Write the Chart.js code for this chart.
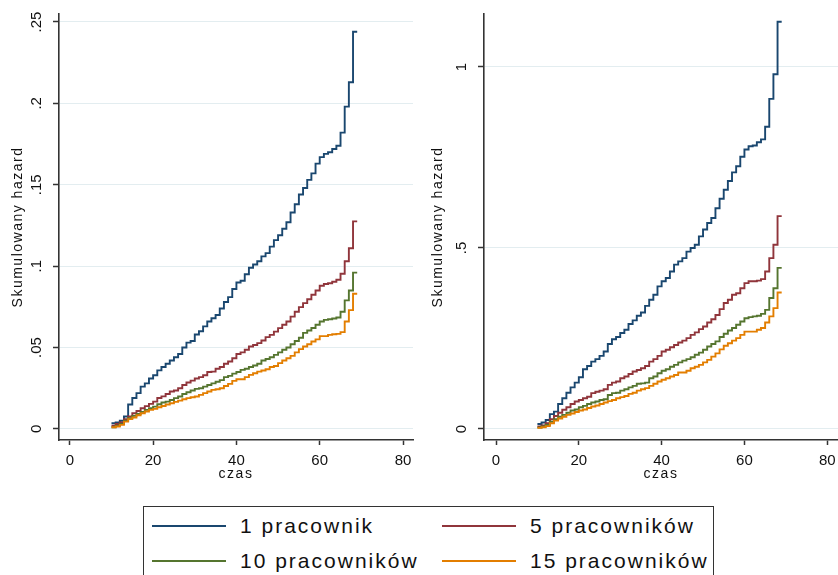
<!DOCTYPE html>
<html>
<head>
<meta charset="utf-8">
<script src="https://cdn.jsdelivr.net/npm/chart.js@4.4.1/dist/chart.umd.min.js"></script>
<style>
  body { margin: 0; width: 838px; height: 575px; overflow: hidden; background: #fff; position: relative;
         font-family: "Liberation Sans", Arial, sans-serif; }
  canvas { position: absolute; top: 0; }
  #left { left: 0; }
  #right { left: 420px; }
  #legend { position: absolute; left: 143px; top: 506px; width: 571px; height: 100px;
            border: 1px solid #333; box-sizing: border-box; }
  .swatch { position: absolute; width: 74px; height: 0; border-top: 2px solid; }
  .label { position: absolute; font-size: 21px; letter-spacing: 2px; color: #111;
           white-space: nowrap; line-height: 24px; }
</style>
</head>
<body>
<canvas id="left" width="420" height="490"></canvas>
<canvas id="right" width="418" height="490"></canvas>
<div id="legend"></div>

<script>
// ----------------------
// DATA
// ----------------------

const czas = [10, 11, 12, 13, 14, 15, 16, 17, 18, 19, 20, 21, 22, 23, 24, 25, 26, 27, 28, 29,
              30, 31, 32, 33, 34, 35, 36, 37, 38, 39, 40, 41, 42, 43, 44, 45, 46, 47, 48, 49,
              50, 51, 52, 53, 54, 55, 56, 57, 58, 59, 60, 61, 62, 63, 64, 65, 66, 67, 68, 69];

const xTicks = [0, 20, 40, 60, 80];

const seriesNames = ['1 pracownik', '5 pracowników', '10 pracowników', '15 pracowników'];
const seriesColors = ['#1a476f', '#90353b', '#55752f', '#e37e00'];

const xTitle = 'czas';
const yTitle = 'Skumulowany hazard';

// left panel
const yTicksLeft = [0, 0.05, 0.1, 0.15, 0.2, 0.25];
const yLabelsLeft = ['0', '.05', '.1', '.15', '.2', '.25'];

const left1 = [0.0035, 0.004, 0.005, 0.0076, 0.015, 0.019, 0.022, 0.026, 0.028, 0.031,
               0.033, 0.036, 0.038, 0.040, 0.042, 0.044, 0.046, 0.050, 0.053, 0.054,
               0.058, 0.060, 0.063, 0.066, 0.068, 0.070, 0.074, 0.078, 0.081, 0.086,
               0.090, 0.091, 0.095, 0.099, 0.101, 0.103, 0.106, 0.108, 0.112, 0.116,
               0.119, 0.123, 0.127, 0.133, 0.138, 0.144, 0.148, 0.153, 0.157, 0.163,
               0.167, 0.169, 0.170, 0.172, 0.174, 0.182, 0.198, 0.213, 0.244, 0.244];
const left5 = [0.002, 0.003, 0.004, 0.006, 0.0076, 0.0096, 0.011, 0.0127, 0.014, 0.0154,
               0.0168, 0.019, 0.020, 0.0215, 0.023, 0.0236, 0.025, 0.027, 0.0285, 0.0297,
               0.031, 0.0318, 0.033, 0.035, 0.0352, 0.037, 0.038, 0.040, 0.0414, 0.0434,
               0.046, 0.047, 0.0486, 0.0506, 0.0516, 0.0527, 0.0543, 0.0564, 0.0578, 0.0598,
               0.0619, 0.064, 0.066, 0.069, 0.072, 0.0748, 0.0773, 0.0797, 0.0824, 0.085,
               0.088, 0.089, 0.0895, 0.0904, 0.0916, 0.0953, 0.103, 0.111, 0.1275, 0.1275];
const left10 = [0.001, 0.002, 0.003, 0.005, 0.0066, 0.008, 0.0092, 0.0105, 0.0117, 0.0127,
                0.0137, 0.0152, 0.0162, 0.0168, 0.0178, 0.0189, 0.0199, 0.0215, 0.0225, 0.0236,
                0.0246, 0.025, 0.026, 0.027, 0.028, 0.029, 0.030, 0.0318, 0.0326, 0.034,
                0.035, 0.0363, 0.037, 0.038, 0.039, 0.040, 0.042, 0.043, 0.044, 0.0455,
                0.047, 0.0486, 0.050, 0.052, 0.054, 0.056, 0.059, 0.0605, 0.062, 0.064,
                0.066, 0.067, 0.0674, 0.0678, 0.0685, 0.072, 0.079, 0.085, 0.096, 0.096];
const left15 = [0.001, 0.0015, 0.0025, 0.0045, 0.006, 0.007, 0.0084, 0.0096, 0.0107, 0.0117,
                0.0123, 0.0133, 0.0141, 0.015, 0.0158, 0.0166, 0.0174, 0.0182, 0.0189, 0.0195,
                0.0199, 0.0209, 0.022, 0.023, 0.024, 0.0244, 0.025, 0.0264, 0.0277, 0.0295,
                0.0305, 0.0305, 0.0318, 0.0332, 0.0342, 0.0352, 0.0359, 0.0367, 0.038, 0.0387,
                0.0404, 0.042, 0.0434, 0.0449, 0.047, 0.049, 0.0506, 0.052, 0.0537, 0.055,
                0.057, 0.057, 0.0578, 0.0582, 0.0584, 0.0595, 0.066, 0.073, 0.083, 0.083];

// right panel
const yTicksRight = [0, 0.5, 1];
const yLabelsRight = ['0', '.5', '1'];

const right1 = [0.014, 0.018, 0.025, 0.041, 0.048, 0.069, 0.085, 0.100, 0.115, 0.128,
                0.143, 0.165, 0.174, 0.186, 0.193, 0.202, 0.214, 0.235, 0.248, 0.254,
                0.265, 0.274, 0.290, 0.300, 0.313, 0.322, 0.340, 0.357, 0.371, 0.394,
                0.408, 0.417, 0.435, 0.454, 0.463, 0.472, 0.490, 0.500, 0.509, 0.532,
                0.551, 0.569, 0.583, 0.610, 0.636, 0.661, 0.685, 0.709, 0.726, 0.752,
                0.772, 0.781, 0.783, 0.792, 0.800, 0.835, 0.912, 0.980, 1.125, 1.125];
const right5 = [0.007, 0.010, 0.016, 0.027, 0.036, 0.045, 0.053, 0.060, 0.069, 0.076,
                0.080, 0.085, 0.089, 0.099, 0.103, 0.106, 0.110, 0.122, 0.128, 0.131,
                0.140, 0.145, 0.152, 0.159, 0.163, 0.168, 0.174, 0.186, 0.193, 0.202,
                0.214, 0.219, 0.226, 0.232, 0.239, 0.244, 0.251, 0.260, 0.267, 0.276,
                0.283, 0.294, 0.303, 0.315, 0.331, 0.348, 0.357, 0.371, 0.375, 0.389,
                0.403, 0.408, 0.408, 0.410, 0.414, 0.435, 0.472, 0.509, 0.588, 0.588];
const right10 = [0.004, 0.007, 0.011, 0.020, 0.027, 0.034, 0.039, 0.045, 0.051, 0.054,
                 0.060, 0.064, 0.069, 0.073, 0.076, 0.080, 0.082, 0.094, 0.099, 0.100,
                 0.106, 0.110, 0.115, 0.119, 0.125, 0.126, 0.128, 0.140, 0.145, 0.154,
                 0.161, 0.165, 0.172, 0.177, 0.184, 0.189, 0.193, 0.198, 0.205, 0.211,
                 0.219, 0.228, 0.235, 0.242, 0.254, 0.263, 0.272, 0.279, 0.288, 0.297,
                 0.306, 0.309, 0.311, 0.313, 0.318, 0.329, 0.362, 0.389, 0.445, 0.445];
const right15 = [0.003, 0.005, 0.008, 0.016, 0.023, 0.029, 0.034, 0.039, 0.043, 0.047,
                 0.051, 0.054, 0.058, 0.062, 0.065, 0.069, 0.073, 0.077, 0.080, 0.085,
                 0.088, 0.091, 0.097, 0.100, 0.106, 0.110, 0.113, 0.119, 0.125, 0.131,
                 0.136, 0.140, 0.145, 0.149, 0.156, 0.156, 0.161, 0.168, 0.172, 0.177,
                 0.184, 0.191, 0.200, 0.209, 0.220, 0.230, 0.237, 0.244, 0.251, 0.260,
                 0.269, 0.269, 0.269, 0.274, 0.279, 0.294, 0.311, 0.334, 0.377, 0.377];

// ----------------------
// CHART SETUP
// ----------------------

const FONT = '"Liberation Sans", Arial, sans-serif';
const axisColor = '#333';
const gridColor = '#e3edf0';

Chart.defaults.font.family = FONT;

// axis titles drawn with Stata-like letter spacing
const axisTitles = {
  id: 'axisTitles',
  afterDraw(chart) {
    const { ctx, chartArea, scales } = chart;
    ctx.save();
    ctx.letterSpacing = '1.5px';
    ctx.font = '14px ' + FONT;
    ctx.fillStyle = '#111';
    ctx.textAlign = 'center';
    ctx.textBaseline = 'middle';
    ctx.fillText(xTitle, (chartArea.left + chartArea.right) / 2, chartArea.bottom + 34);
    ctx.translate(scales.y.left + 18.5, (chartArea.top + chartArea.bottom) / 2);
    ctx.rotate(-Math.PI / 2);
    ctx.fillText(yTitle, 0, 0);
    ctx.restore();
  }
};

function makePanel(id, series, yTicks, yLabels, cfg) {
  const datasets = series.map((vals, i) => ({
    label: seriesNames[i],
    data: czas.map((t, k) => ({ x: t, y: vals[k] })),
    borderColor: seriesColors[i],
    borderWidth: 1.9,
    stepped: true,
    pointRadius: 0,
    fill: false,
    order: series.length - 1 - i
  }));

  return new Chart(document.getElementById(id), {
    type: 'line',
    data: { datasets },
    plugins: [axisTitles],
    options: {
      responsive: false,
      animation: false,
      layout: { padding: { left: 0, top: 14, right: cfg.padRight, bottom: 0 } },
      plugins: { legend: { display: false }, tooltip: { enabled: false } },
      scales: {
        x: {
          type: 'linear',
          min: cfg.xMin,
          max: cfg.xMax,
          afterBuildTicks: s => { s.ticks = xTicks.map(v => ({ value: v })); },
          afterFit: s => { s.height = 50; s.paddingLeft = 0; s.paddingRight = 0; },
          grid: { drawOnChartArea: false, drawTicks: true, tickLength: 5, tickColor: axisColor, tickWidth: 1.5 },
          border: { display: true, color: axisColor, width: 1.6 },
          ticks: { color: '#111', font: { size: 15 }, padding: 7, maxRotation: 0, autoSkip: false }
        },
        y: {
          min: cfg.yMin,
          max: cfg.yMax,
          afterBuildTicks: s => { s.ticks = yTicks.map(v => ({ value: v })); },
          afterFit: s => { s.width = cfg.axisWidth; s.paddingTop = 0; s.paddingBottom = 0; },
          grid: { color: gridColor, lineWidth: 1, drawTicks: true, tickLength: 6, tickColor: axisColor, tickWidth: 1.5 },
          border: { display: true, color: axisColor, width: 1.6 },
          ticks: {
            color: '#111', font: { size: 15 }, padding: cfg.tickPad,
            minRotation: 90, maxRotation: 90, crossAlign: 'center', autoSkip: false,
            callback: (v, i) => yLabels[i]
          }
        }
      }
    }
  });
}

makePanel('left', [left1, left5, left10, left15], yTicksLeft, yLabelsLeft,
  { xMin: -2.6, xMax: 82.4, yMin: -0.0068, yMax: 0.2549, axisWidth: 59, padRight: 7, tickPad: 5.6 });

makePanel('right', [right1, right5, right10, right15], yTicksRight, yLabelsRight,
  { xMin: -2.9, xMax: 82.6, yMin: -0.0304, yMax: 1.1464, axisWidth: 64, padRight: 0, tickPad: 9.75 });

// ----------------------
// LEGEND
// ----------------------

const legend = document.getElementById('legend');
const cols = [8, 298];    // swatch x inside box
const rows = [19, 54];    // row centre y inside box
seriesNames.forEach((name, i) => {
  const cx = cols[i % 2];
  const cy = rows[Math.floor(i / 2)];
  const sw = document.createElement('div');
  sw.className = 'swatch';
  sw.style.left = cx + 'px';
  sw.style.top = (cy - 1) + 'px';
  sw.style.borderColor = seriesColors[i];
  legend.appendChild(sw);
  const lb = document.createElement('div');
  lb.className = 'label';
  lb.style.left = (cx + 88) + 'px';
  lb.style.top = (cy - 12) + 'px';
  lb.textContent = name;
  legend.appendChild(lb);
});
</script>
</body>
</html>
